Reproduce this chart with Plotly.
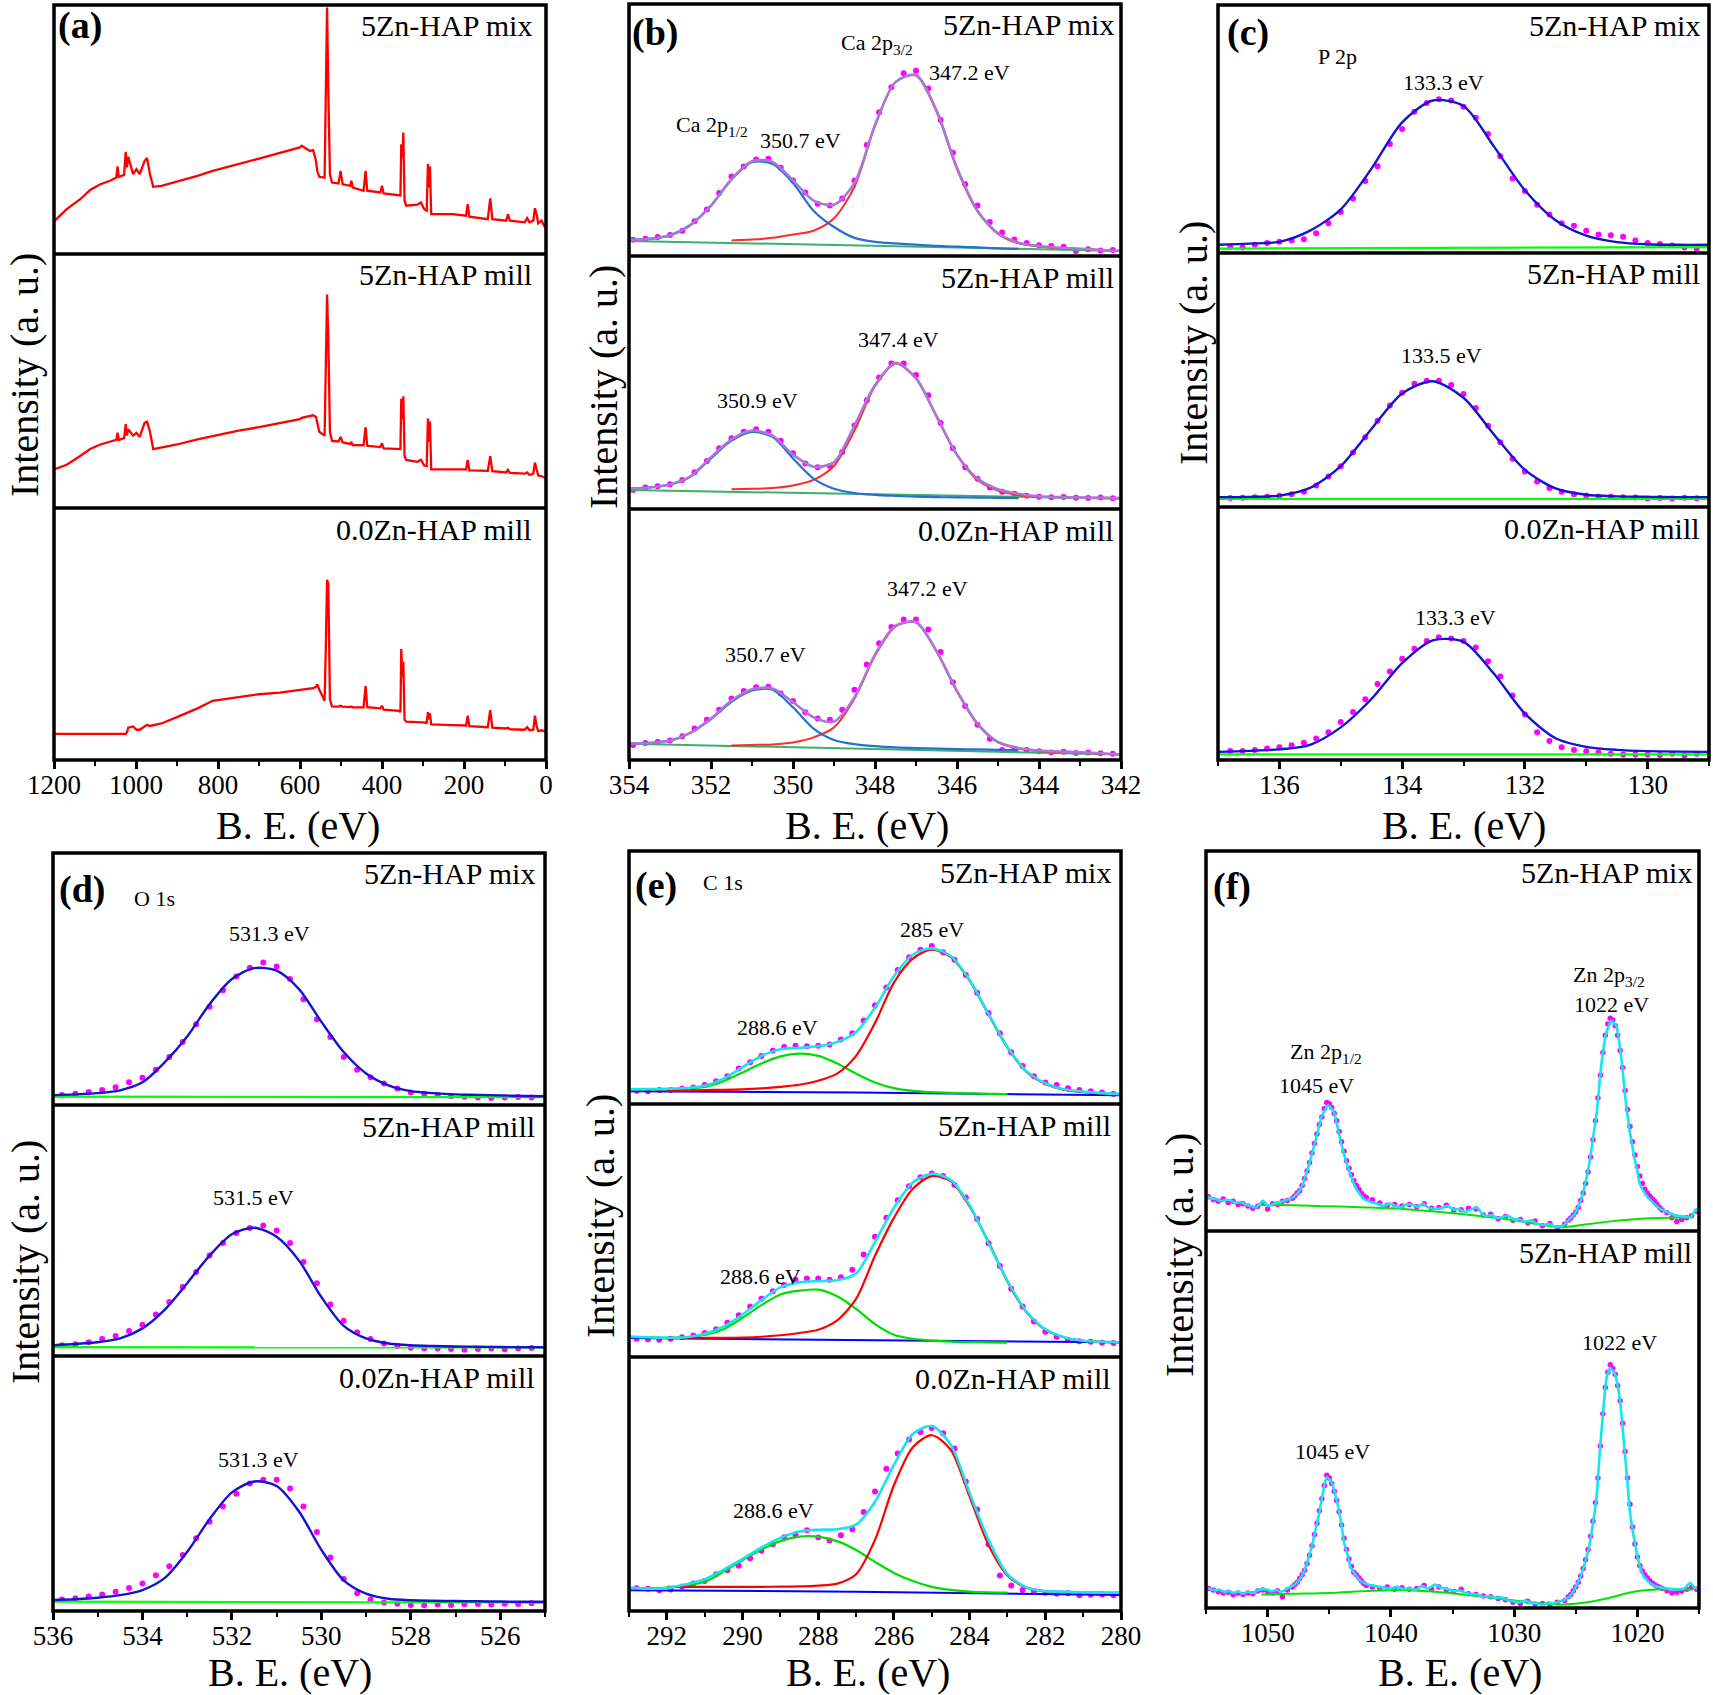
import plotly.graph_objects as go

# ======================= DATA (normalised intensity, 0 = bottom of sub-panel, 1 = top) =======================
# ---------- (a) survey ----------
SURVEY_BE = [1200, 1169, 1136, 1112, 1087, 1063, 1048, 1045, 1042, 1029,
             1025, 1022, 1019, 1007, 999, 991, 979, 973, 966, 958,
             938, 900, 850, 813, 750, 700, 649, 600, 596, 576,
             568, 561, 558, 553, 540, 537, 534, 531, 527, 522,
             506, 501, 496, 477, 475, 471, 445, 440, 436, 404,
             400, 396, 358, 355, 353, 350, 348, 345, 341, 314,
             305, 297, 291, 288, 285, 283, 280, 228, 195, 191,
             187, 142, 136, 131, 97, 93, 88, 52, 46, 40,
             31, 27, 23, 19, 11, 0]
SURVEY_MIX = [0.131, 0.18, 0.22, 0.257, 0.28, 0.294, 0.307, 0.352, 0.31, 0.318,
              0.41, 0.348, 0.39, 0.321, 0.341, 0.321, 0.374, 0.385, 0.321, 0.27,
              0.274, 0.291, 0.314, 0.334, 0.36, 0.383, 0.406, 0.428, 0.435, 0.414,
              0.417, 0.374, 0.334, 0.31, 0.307, 0.729, 0.99, 0.662, 0.32, 0.287,
              0.283, 0.334, 0.28, 0.274, 0.294, 0.267, 0.254, 0.334, 0.254, 0.247,
              0.274, 0.243, 0.238, 0.235, 0.441, 0.388, 0.488, 0.214, 0.194, 0.198,
              0.207, 0.18, 0.174, 0.361, 0.267, 0.351, 0.16, 0.16, 0.154, 0.2,
              0.15, 0.14, 0.223, 0.14, 0.134, 0.16, 0.134, 0.127, 0.144, 0.127,
              0.134, 0.184, 0.16, 0.123, 0.134, 0.1]
SURVEY_MILL = [0.152, 0.17, 0.205, 0.232, 0.25, 0.262, 0.268, 0.296, 0.268, 0.275,
               0.33, 0.285, 0.31, 0.285, 0.296, 0.28, 0.335, 0.34, 0.3, 0.232,
               0.238, 0.25, 0.27, 0.283, 0.305, 0.318, 0.335, 0.35, 0.355, 0.362,
               0.365, 0.358, 0.33, 0.3, 0.285, 0.6, 0.84, 0.67, 0.3, 0.264,
               0.262, 0.28, 0.258, 0.252, 0.26, 0.248, 0.247, 0.318, 0.245, 0.24,
               0.255, 0.235, 0.232, 0.232, 0.43, 0.35, 0.44, 0.205, 0.189, 0.182,
               0.19, 0.167, 0.165, 0.352, 0.26, 0.34, 0.152, 0.152, 0.152, 0.189,
               0.148, 0.146, 0.204, 0.145, 0.14, 0.15, 0.138, 0.135, 0.14, 0.13,
               0.135, 0.178, 0.15, 0.128, 0.125, 0.118]
SURVEY_00 = [0.104, 0.104, 0.104, 0.104, 0.104, 0.104, 0.104, 0.104, 0.104, 0.104,
             0.104, 0.11, 0.128, 0.133, 0.12, 0.12, 0.135, 0.14, 0.135, 0.138,
             0.145, 0.17, 0.205, 0.235, 0.25, 0.261, 0.267, 0.278, 0.278, 0.283,
             0.285, 0.29, 0.3, 0.28, 0.235, 0.45, 0.715, 0.7, 0.24, 0.213,
             0.212, 0.215, 0.212, 0.21, 0.212, 0.209, 0.209, 0.293, 0.21, 0.205,
             0.215, 0.2, 0.195, 0.19, 0.44, 0.33, 0.39, 0.16, 0.152, 0.15,
             0.15, 0.148, 0.148, 0.19, 0.16, 0.185, 0.141, 0.138, 0.137, 0.176,
             0.134, 0.13, 0.198, 0.128, 0.125, 0.128, 0.122, 0.12, 0.13, 0.118,
             0.12, 0.176, 0.135, 0.115, 0.118, 0.111]

# ---------- (b) Ca 2p ----------
CA_FIT_BE = [354, 353.5, 353, 352.5, 352, 351.5, 351, 350.5, 350, 349.5, 349, 348.5, 348,
             347.5, 347, 346.5, 346, 345.5, 345, 344.5, 344, 343.5, 343, 342.5, 342]
CA_P12_BE = [354, 353.5, 353, 352.5, 352, 351.5, 351, 350.5, 350, 349.5, 349, 348.5, 348,
             347.5, 347, 346.5, 346, 345.5, 345, 344.5]
CA_P32_BE = [351.5, 351, 350.5, 350, 349.5, 349, 348.5, 348, 347.5, 347, 346.5, 346,
             345.5, 345, 344.5, 344, 343.5, 343, 342.5, 342]
CA_BASE_BE = [354, 342]
CA_DOT_BE = [353.9, 353.6, 353.3, 353.0, 352.7, 352.4, 352.1, 351.8, 351.5, 351.2,
             350.9, 350.6, 350.3, 350.0, 349.7, 349.4, 349.1, 348.8, 348.5, 348.2,
             347.9, 347.6, 347.3, 347.0, 346.7, 346.4, 346.1, 345.8, 345.5, 345.2,
             344.9, 344.6, 344.3, 344.0, 343.7, 343.4, 343.1, 342.8, 342.5, 342.2]

CA_MIX_ENV = [0.064, 0.068, 0.082, 0.123, 0.2, 0.305, 0.376, 0.373, 0.30, 0.22, 0.203, 0.29, 0.52,
              0.69, 0.718, 0.578, 0.35, 0.18, 0.09, 0.053, 0.04, 0.033, 0.029, 0.024, 0.02]
CA_MIX_P12 = [0.064, 0.068, 0.082, 0.123, 0.2, 0.303, 0.372, 0.365, 0.29, 0.18, 0.115, 0.072, 0.056,
              0.05, 0.045, 0.04, 0.037, 0.034, 0.03, 0.028]
CA_MIX_P32 = [0.062, 0.065, 0.072, 0.085, 0.1, 0.15, 0.275, 0.516, 0.69, 0.716, 0.573, 0.345,
              0.177, 0.088, 0.05, 0.038, 0.031, 0.028, 0.024, 0.02]
CA_MIX_BASE = [0.06, 0.02]
CA_MIX_DOTS = [0.064, 0.068, 0.075, 0.083, 0.1, 0.138, 0.185, 0.25, 0.315, 0.355,
               0.383, 0.386, 0.35, 0.3, 0.252, 0.207, 0.2, 0.228, 0.3, 0.44,
               0.57, 0.67, 0.725, 0.735, 0.665, 0.54, 0.41, 0.285, 0.2, 0.135,
               0.093, 0.065, 0.052, 0.043, 0.04, 0.037, 0.02, 0.027, 0.022, 0.024]

CA_MILL_ENV = [0.08, 0.085, 0.097, 0.129, 0.205, 0.275, 0.31, 0.29, 0.215, 0.167, 0.185, 0.33, 0.49,
               0.578, 0.517, 0.368, 0.215, 0.12, 0.078, 0.06, 0.05, 0.047, 0.045, 0.044, 0.043]
CA_MILL_P12 = [0.08, 0.085, 0.097, 0.128, 0.2, 0.27, 0.305, 0.285, 0.2, 0.12, 0.08, 0.063, 0.056,
               0.052, 0.049, 0.047, 0.046, 0.045, 0.044, 0.043]
CA_MILL_P32 = [0.078, 0.08, 0.083, 0.093, 0.115, 0.17, 0.31, 0.485, 0.575, 0.515, 0.365, 0.213,
               0.115, 0.073, 0.055, 0.048, 0.046, 0.045, 0.044, 0.043]
CA_MILL_BASE = [0.075, 0.041]
CA_MILL_DOTS = [0.075, 0.085, 0.09, 0.098, 0.115, 0.145, 0.19, 0.24, 0.28, 0.305,
                0.315, 0.305, 0.27, 0.22, 0.18, 0.165, 0.17, 0.225, 0.33, 0.43,
                0.52, 0.575, 0.575, 0.53, 0.45, 0.34, 0.24, 0.165, 0.12, 0.085,
                0.068, 0.06, 0.052, 0.048, 0.046, 0.047, 0.044, 0.043, 0.045, 0.042]

CA_00_ENV = [0.065, 0.068, 0.077, 0.109, 0.165, 0.237, 0.282, 0.285, 0.23, 0.17, 0.153, 0.25, 0.42,
             0.535, 0.55, 0.435, 0.275, 0.145, 0.072, 0.048, 0.038, 0.034, 0.031, 0.027, 0.022]
CA_00_P12 = [0.065, 0.068, 0.077, 0.108, 0.163, 0.232, 0.277, 0.28, 0.21, 0.125, 0.08, 0.063, 0.055,
             0.05, 0.047, 0.045, 0.043, 0.042, 0.04, 0.038]
CA_00_P32 = [0.058, 0.06, 0.062, 0.07, 0.09, 0.13, 0.245, 0.415, 0.532, 0.548, 0.432, 0.272,
             0.142, 0.07, 0.046, 0.036, 0.032, 0.029, 0.025, 0.022]
CA_00_BASE = [0.065, 0.022]
CA_00_DOTS = [0.06, 0.068, 0.072, 0.078, 0.095, 0.125, 0.16, 0.2, 0.245, 0.275,
              0.29, 0.292, 0.265, 0.235, 0.19, 0.165, 0.16, 0.2, 0.28, 0.38,
              0.465, 0.53, 0.56, 0.56, 0.52, 0.43, 0.31, 0.215, 0.14, 0.085,
              0.04, 0.045, 0.04, 0.035, 0.03, 0.033, 0.028, 0.03, 0.027, 0.025]

# ---------- (c) P 2p ----------
P_FIT_BE = [137, 136.5, 136, 135.5, 135, 134.5, 134, 133.5, 133, 132.5, 132, 131.5, 131,
            130.5, 130, 129.5, 129]
P_BASE_BE = [137, 129]
P_DOT_BE = [136.8, 136.6, 136.4, 136.2, 136.0, 135.8, 135.6, 135.4, 135.2, 135.0,
            134.8, 134.6, 134.4, 134.2, 134.0, 133.8, 133.6, 133.4, 133.2, 133.0,
            132.8, 132.6, 132.4, 132.2, 132.0, 131.8, 131.6, 131.4, 131.2, 131.0,
            130.8, 130.6, 130.4, 130.2, 130.0, 129.8, 129.6, 129.4, 129.2]
P_MIX_ENV = [0.033, 0.038, 0.045, 0.09, 0.176, 0.34, 0.527, 0.615, 0.593, 0.428, 0.253, 0.132, 0.07,
             0.044, 0.035, 0.033, 0.033]
P_MIX_BASE = [0.018, 0.024]
P_MIX_DOTS = [0.025, 0.022, 0.033, 0.04, 0.045, 0.05, 0.055, 0.08, 0.12, 0.165,
              0.22, 0.29, 0.35, 0.44, 0.5, 0.57, 0.605, 0.62, 0.615, 0.59,
              0.545, 0.48, 0.39, 0.3, 0.25, 0.195, 0.155, 0.12, 0.11, 0.09,
              0.075, 0.072, 0.066, 0.05, 0.04, 0.036, 0.03, 0.022, 0.017]
P_MILL_ENV = [0.039, 0.04, 0.045, 0.075, 0.161, 0.307, 0.447, 0.495, 0.43, 0.284, 0.146, 0.073, 0.048,
              0.042, 0.04, 0.039, 0.039]
P_MILL_BASE = [0.032, 0.032]
P_MILL_DOTS = [0.035, 0.036, 0.038, 0.04, 0.044, 0.05, 0.06, 0.085, 0.12, 0.16,
               0.215, 0.275, 0.34, 0.4, 0.45, 0.485, 0.497, 0.497, 0.48, 0.445,
               0.39, 0.32, 0.255, 0.19, 0.14, 0.1, 0.075, 0.06, 0.05, 0.045,
               0.04, 0.04, 0.038, 0.037, 0.033, 0.035, 0.033, 0.036, 0.034]
P_00_ENV = [0.032, 0.036, 0.042, 0.06, 0.129, 0.241, 0.383, 0.473, 0.467, 0.34, 0.183, 0.086, 0.052,
            0.04, 0.035, 0.033, 0.032]
P_00_BASE = [0.022, 0.022]
P_00_DOTS = [0.036, 0.036, 0.04, 0.045, 0.05, 0.058, 0.068, 0.085, 0.11, 0.15,
             0.19, 0.24, 0.3, 0.35, 0.4, 0.44, 0.47, 0.485, 0.48, 0.47,
             0.445, 0.39, 0.33, 0.255, 0.18, 0.11, 0.075, 0.05, 0.04, 0.035,
             0.03, 0.025, 0.022, 0.022, 0.022, 0.02, 0.025, 0.018, 0.025]

# ---------- (d) O 1s ----------
O_FIT_BE = [536, 535.5, 535, 534.5, 534, 533.5, 533, 532.5, 532, 531.5, 531, 530.5, 530,
            529.5, 529, 528.5, 528, 527.5, 527, 526.5, 526, 525.5, 525]
O_BASE_BE = [536, 525]
O_DOT_BE = [535.8, 535.5, 535.2, 534.9, 534.6, 534.3, 534.0, 533.7, 533.4, 533.1,
            532.8, 532.5, 532.2, 531.9, 531.6, 531.3, 531.0, 530.7, 530.4, 530.1,
            529.8, 529.5, 529.2, 528.9, 528.6, 528.3, 528.0, 527.7, 527.4, 527.1,
            526.8, 526.5, 526.2, 525.9, 525.6, 525.3]
O_MIX_ENV = [0.039, 0.042, 0.047, 0.058, 0.09, 0.17, 0.272, 0.4, 0.5, 0.543, 0.533, 0.46, 0.33,
             0.21, 0.125, 0.078, 0.055, 0.047, 0.042, 0.04, 0.038, 0.036, 0.035]
O_MIX_BASE = [0.033, 0.031]
O_MIX_DOTS = [0.04, 0.045, 0.052, 0.06, 0.07, 0.09, 0.108, 0.14, 0.19, 0.25,
              0.32, 0.39, 0.455, 0.51, 0.545, 0.565, 0.55, 0.5, 0.42, 0.34,
              0.27, 0.19, 0.14, 0.11, 0.085, 0.065, 0.05, 0.045, 0.04, 0.035,
              0.033, 0.03, 0.028, 0.03, 0.032, 0.03]
O_MILL_ENV = [0.043, 0.048, 0.055, 0.07, 0.11, 0.185, 0.29, 0.4, 0.485, 0.511, 0.475, 0.38, 0.235,
              0.12, 0.07, 0.05, 0.043, 0.04, 0.038, 0.037, 0.036, 0.035, 0.035]
O_MILL_BASE = [0.035, 0.034]
O_MILL_DOTS = [0.043, 0.047, 0.055, 0.068, 0.08, 0.1, 0.125, 0.165, 0.215, 0.275,
               0.335, 0.4, 0.45, 0.49, 0.51, 0.52, 0.5, 0.45, 0.375, 0.29,
               0.205, 0.14, 0.095, 0.068, 0.05, 0.04, 0.033, 0.03, 0.03, 0.028,
               0.025, 0.028, 0.03, 0.027, 0.03, 0.032]
O_00_ENV = [0.043, 0.046, 0.052, 0.062, 0.082, 0.13, 0.232, 0.36, 0.465, 0.508, 0.49, 0.39, 0.24,
            0.12, 0.068, 0.048, 0.042, 0.04, 0.039, 0.038, 0.037, 0.036, 0.036]
O_00_BASE = [0.037, 0.033]
O_00_DOTS = [0.045, 0.05, 0.057, 0.065, 0.075, 0.09, 0.108, 0.14, 0.175, 0.22,
             0.285, 0.35, 0.41, 0.46, 0.5, 0.515, 0.515, 0.48, 0.41, 0.31,
             0.21, 0.125, 0.07, 0.045, 0.033, 0.028, 0.024, 0.023, 0.025, 0.024,
             0.026, 0.027, 0.025, 0.028, 0.027, 0.03]

# ---------- (e) C 1s ----------
C_FIT_BE = [293, 292.5, 292, 291.5, 291, 290.5, 290, 289.5, 289, 288.5, 288, 287.5, 287,
            286.5, 286, 285.5, 285, 284.5, 284, 283.5, 283, 282.5, 282, 281.5, 281, 280.5, 280]
C_GREEN_BE = [293, 292.5, 292, 291.5, 291, 290.5, 290, 289.5, 289, 288.5, 288, 287.5, 287,
              286.5, 286, 285.5, 285, 284.5, 284, 283.5, 283]
C_RED_BE = [292, 291.5, 291, 290.5, 290, 289.5, 289, 288.5, 288, 287.5, 287, 286.5, 286,
            285.5, 285, 284.5, 284, 283.5, 283, 282.5, 282, 281.5, 281, 280.5, 280]
C_BASE_BE = [293, 287, 280]
C_DOT_BE = [292.8, 292.5, 292.2, 291.9, 291.6, 291.3, 291.0, 290.7, 290.4, 290.1,
            289.8, 289.5, 289.2, 288.9, 288.6, 288.3, 288.0, 287.7, 287.4, 287.1,
            286.8, 286.5, 286.2, 285.9, 285.6, 285.3, 285.0, 284.7, 284.4, 284.1,
            283.8, 283.5, 283.2, 282.9, 282.6, 282.3, 282.0, 281.7, 281.4, 281.1,
            280.8, 280.5, 280.2]
C_MIX_ENV = [0.058, 0.059, 0.06, 0.063, 0.072, 0.1, 0.146, 0.19, 0.216, 0.222, 0.228, 0.245, 0.285,
             0.38, 0.505, 0.59, 0.615, 0.585, 0.49, 0.356, 0.225, 0.13, 0.082, 0.058, 0.049, 0.043, 0.039]
C_MIX_GREEN = [0.058, 0.058, 0.059, 0.062, 0.068, 0.09, 0.125, 0.16, 0.188, 0.199, 0.19, 0.16, 0.12,
               0.085, 0.063, 0.052, 0.047, 0.044, 0.042, 0.04, 0.039]
C_MIX_RED = [0.054, 0.054, 0.055, 0.056, 0.058, 0.062, 0.068, 0.076, 0.092, 0.12, 0.19, 0.32, 0.48,
             0.575, 0.61, 0.582, 0.488, 0.354, 0.223, 0.128, 0.08, 0.056, 0.047, 0.042, 0.039]
C_MIX_BASE = [0.05, 0.045, 0.035]
C_MIX_DOTS = [0.052, 0.05, 0.055, 0.055, 0.06, 0.065, 0.075, 0.09, 0.11, 0.14,
              0.165, 0.19, 0.21, 0.225, 0.23, 0.228, 0.23, 0.235, 0.255, 0.28,
              0.33, 0.39, 0.46, 0.53, 0.58, 0.61, 0.625, 0.6, 0.57, 0.51,
              0.44, 0.36, 0.28, 0.205, 0.15, 0.11, 0.085, 0.075, 0.062, 0.055,
              0.05, 0.045, 0.04]
C_MILL_ENV = [0.08, 0.078, 0.076, 0.078, 0.092, 0.12, 0.168, 0.225, 0.275, 0.295, 0.3, 0.303, 0.33,
              0.455, 0.59, 0.69, 0.724, 0.7, 0.6, 0.45, 0.301, 0.18, 0.11, 0.078, 0.064, 0.06, 0.058]
C_MILL_GREEN = [0.08, 0.078, 0.076, 0.078, 0.088, 0.11, 0.155, 0.205, 0.247, 0.262, 0.266, 0.24, 0.19,
                0.13, 0.088, 0.072, 0.065, 0.061, 0.059, 0.058, 0.057]
C_MILL_RED = [0.076, 0.076, 0.076, 0.076, 0.077, 0.08, 0.086, 0.095, 0.108, 0.145, 0.23, 0.4, 0.55,
              0.665, 0.715, 0.695, 0.595, 0.455, 0.298, 0.178, 0.108, 0.077, 0.064, 0.06, 0.058]
C_MILL_BASE = [0.075, 0.068, 0.058]
C_MILL_DOTS = [0.072, 0.07, 0.068, 0.072, 0.078, 0.085, 0.095, 0.11, 0.135, 0.165,
               0.2, 0.23, 0.26, 0.285, 0.305, 0.31, 0.31, 0.305, 0.315, 0.345,
               0.405, 0.475, 0.55, 0.62, 0.675, 0.71, 0.725, 0.715, 0.68, 0.63,
               0.545, 0.45, 0.36, 0.27, 0.2, 0.14, 0.1, 0.08, 0.068, 0.062,
               0.06, 0.056, 0.055]
C_00_ENV = [0.092, 0.088, 0.09, 0.105, 0.125, 0.163, 0.205, 0.25, 0.288, 0.313, 0.32, 0.322, 0.34,
            0.43, 0.575, 0.697, 0.728, 0.655, 0.465, 0.28, 0.145, 0.093, 0.078, 0.076, 0.074, 0.072, 0.072]
C_00_GREEN = [0.09, 0.09, 0.092, 0.1, 0.115, 0.155, 0.2, 0.242, 0.275, 0.293, 0.293, 0.275, 0.24,
              0.193, 0.15, 0.118, 0.095, 0.083, 0.076, 0.073, 0.072]
C_00_RED = [0.095, 0.095, 0.095, 0.095, 0.095, 0.095, 0.096, 0.097, 0.1, 0.108, 0.145, 0.28, 0.495,
            0.645, 0.692, 0.635, 0.45, 0.26, 0.14, 0.092, 0.078, 0.075, 0.074, 0.072, 0.072]
C_00_BASE = [0.082, 0.076, 0.063]
C_00_DOTS = [0.09, 0.088, 0.082, 0.085, 0.095, 0.108, 0.118, 0.145, 0.16, 0.178,
             0.208, 0.237, 0.263, 0.29, 0.298, 0.318, 0.289, 0.278, 0.298, 0.322,
             0.39, 0.47, 0.56, 0.62, 0.675, 0.705, 0.72, 0.7, 0.64, 0.51,
             0.4, 0.263, 0.14, 0.1, 0.083, 0.077, 0.072, 0.068, 0.07, 0.062,
             0.064, 0.065, 0.062]

# ---------- (f) Zn 2p ----------
F_MIX_FIT_BE = [1055.0, 1054.6, 1054.2, 1053.8, 1053.4, 1053.0, 1052.6, 1052.2, 1051.8, 1051.4,
                1051.0, 1050.6, 1050.4, 1050.1, 1049.8, 1049.4, 1049.0, 1048.6, 1048.2, 1047.8,
                1047.3, 1046.7, 1046.1, 1045.6, 1045.1, 1044.6, 1044.1, 1043.5, 1042.8, 1042.2,
                1041.6, 1041.1, 1040.6, 1040.1, 1039.7, 1039.2, 1038.8, 1038.3, 1037.8, 1037.4,
                1037.0, 1036.5, 1035.9, 1035.4, 1034.9, 1034.5, 1034.0, 1033.4, 1033.0, 1032.6,
                1032.3, 1031.8, 1031.4, 1031.0, 1030.5, 1030.0, 1029.6, 1029.1, 1028.6, 1028.2,
                1027.7, 1027.1, 1026.6, 1026.2, 1025.8, 1025.5, 1025.1, 1024.7, 1024.3, 1023.9,
                1023.6, 1023.3, 1022.9, 1022.5, 1022.1, 1021.7, 1021.3, 1020.9, 1020.6, 1020.3,
                1020.0, 1019.8, 1019.3, 1018.9, 1018.3, 1017.8, 1017.3, 1016.7, 1016.2, 1015.7,
                1015.4, 1015.2, 1015.0]
F_MIX_ENV = [0.093, 0.085, 0.084, 0.078, 0.082, 0.08, 0.074, 0.076, 0.07, 0.066,
             0.062, 0.072, 0.08, 0.07, 0.067, 0.074, 0.076, 0.08, 0.084, 0.092,
             0.111, 0.169, 0.24, 0.302, 0.331, 0.311, 0.24, 0.169, 0.111, 0.084,
             0.076, 0.071, 0.066, 0.072, 0.067, 0.062, 0.07, 0.069, 0.064, 0.072,
             0.062, 0.058, 0.06, 0.066, 0.056, 0.058, 0.05, 0.058, 0.062, 0.045,
             0.04, 0.042, 0.034, 0.036, 0.04, 0.03, 0.031, 0.024, 0.028, 0.02,
             0.016, 0.018, 0.01, 0.013, 0.02, 0.031, 0.045, 0.071, 0.115, 0.178,
             0.245, 0.311, 0.444, 0.524, 0.553, 0.538, 0.453, 0.329, 0.26, 0.204,
             0.158, 0.124, 0.095, 0.08, 0.062, 0.053, 0.046, 0.04, 0.038, 0.036,
             0.05, 0.058, 0.045]
F_MILL_FIT_BE = [1055.0, 1054.6, 1054.2, 1053.9, 1053.5, 1053.1, 1052.8, 1052.4, 1052.0, 1051.6,
                 1051.2, 1050.8, 1050.4, 1050.1, 1049.7, 1049.3, 1048.9, 1048.5, 1048.2, 1047.9,
                 1047.5, 1047.1, 1046.7, 1046.4, 1046.1, 1045.8, 1045.4, 1045.2, 1044.8, 1044.5,
                 1044.3, 1044.0, 1043.8, 1043.5, 1043.3, 1042.9, 1042.6, 1042.0, 1041.3, 1040.7,
                 1040.0, 1039.5, 1039.0, 1038.5, 1038.0, 1037.5, 1037.0, 1036.4, 1035.9, 1035.4,
                 1034.9, 1034.4, 1034.0, 1033.5, 1033.0, 1032.5, 1032.0, 1031.5, 1031.0, 1030.5,
                 1030.1, 1029.6, 1029.1, 1028.6, 1028.2, 1027.7, 1027.2, 1026.8, 1026.3, 1025.9,
                 1025.5, 1025.1, 1024.7, 1024.3, 1023.9, 1023.6, 1023.3, 1023.1, 1022.9, 1022.7,
                 1022.5, 1022.2, 1021.8, 1021.6, 1021.4, 1021.2, 1021.0, 1020.8, 1020.6, 1020.3,
                 1020.0, 1019.8, 1019.5, 1019.1, 1018.8, 1018.3, 1017.8, 1017.3, 1016.7, 1016.2,
                 1015.9, 1015.7, 1015.4, 1015.0]
F_MILL_ENV = [0.053, 0.05, 0.047, 0.049, 0.042, 0.045, 0.04, 0.044, 0.038, 0.043,
              0.04, 0.047, 0.05, 0.049, 0.044, 0.048, 0.043, 0.05, 0.055, 0.06,
              0.072, 0.093, 0.13, 0.165, 0.21, 0.254, 0.325, 0.347, 0.334, 0.3,
              0.272, 0.22, 0.174, 0.14, 0.111, 0.09, 0.076, 0.064, 0.058, 0.055,
              0.052, 0.056, 0.05, 0.053, 0.048, 0.058, 0.052, 0.062, 0.053, 0.05,
              0.045, 0.047, 0.04, 0.038, 0.035, 0.03, 0.031, 0.027, 0.028, 0.02,
              0.018, 0.015, 0.02, 0.012, 0.013, 0.008, 0.015, 0.012, 0.018, 0.022,
              0.031, 0.05, 0.076, 0.115, 0.165, 0.225, 0.298, 0.39, 0.476, 0.55,
              0.61, 0.637, 0.619, 0.59, 0.548, 0.48, 0.405, 0.33, 0.254, 0.19,
              0.138, 0.11, 0.085, 0.07, 0.062, 0.056, 0.053, 0.05, 0.049, 0.052,
              0.062, 0.067, 0.055, 0.049]
F_BASE_BE = [1050.5, 1048, 1045, 1042, 1039, 1036, 1033, 1030, 1027.5, 1026, 1024.5, 1022.5,
             1020.5, 1018.5, 1015.5]
F_MIX_BASE = [0.068, 0.068, 0.065, 0.062, 0.058, 0.05, 0.04, 0.028, 0.015, 0.01, 0.016, 0.024,
              0.03, 0.034, 0.036]
F_MILL_BASE = [0.036, 0.038, 0.04, 0.045, 0.048, 0.042, 0.032, 0.02, 0.011, 0.009, 0.013, 0.025,
               0.042, 0.049, 0.049]
F_DOT_BE = [1054.8, 1054.4, 1054.0, 1053.6, 1053.2, 1052.8, 1052.4, 1052.0, 1051.6, 1051.2,
            1050.8, 1050.4, 1050.0, 1049.6, 1049.2, 1048.8, 1048.4,
            1048.0, 1047.8, 1047.6, 1047.4, 1047.2, 1047.0, 1046.8, 1046.6, 1046.4, 1046.2,
            1046.0, 1045.8, 1045.6, 1045.4, 1045.2, 1045.0, 1044.8, 1044.6, 1044.4, 1044.2,
            1044.0, 1043.8, 1043.6, 1043.4, 1043.2, 1043.0, 1042.8, 1042.6, 1042.4, 1042.2,
            1042.0,
            1041.5, 1040.9, 1040.3, 1039.7, 1039.1, 1038.5, 1037.9, 1037.3, 1036.7, 1036.1,
            1035.5, 1034.9, 1034.3, 1033.7, 1033.1, 1032.5, 1031.9, 1031.3, 1030.7, 1030.1,
            1029.5, 1028.9, 1028.3, 1027.7, 1027.1, 1026.5, 1025.9,
            1025.6, 1025.4, 1025.2, 1025.0, 1024.8, 1024.6, 1024.4, 1024.2, 1024.0, 1023.8,
            1023.6, 1023.4, 1023.2, 1023.0, 1022.8, 1022.6, 1022.4, 1022.2, 1022.0, 1021.8,
            1021.6, 1021.4, 1021.2, 1021.0, 1020.8, 1020.6, 1020.4, 1020.2, 1020.0, 1019.8,
            1019.6, 1019.4, 1019.2, 1019.0, 1018.8, 1018.6, 1018.4, 1018.2, 1018.0,
            1017.6, 1017.2, 1016.8, 1016.4, 1016.0, 1015.6, 1015.2]
F_MIX_DOTS = [0.09, 0.082, 0.078, 0.084, 0.075, 0.078, 0.07, 0.072, 0.066, 0.06,
              0.065, 0.074, 0.058, 0.072, 0.07, 0.078, 0.08,
              0.086, 0.092, 0.1, 0.106, 0.12, 0.138, 0.158, 0.18, 0.205, 0.23,
              0.255, 0.28, 0.3, 0.322, 0.338, 0.335, 0.325, 0.31, 0.29, 0.262,
              0.235, 0.21, 0.185, 0.165, 0.148, 0.132, 0.12, 0.11, 0.1, 0.092,
              0.088,
              0.082, 0.074, 0.068, 0.07, 0.066, 0.07, 0.064, 0.072, 0.06, 0.062,
              0.068, 0.055, 0.056, 0.06, 0.058, 0.042, 0.044, 0.032, 0.038, 0.028,
              0.03, 0.022, 0.026, 0.014, 0.02, 0.008, 0.018,
              0.028, 0.034, 0.042, 0.05, 0.062, 0.08, 0.1, 0.125, 0.155, 0.195,
              0.24, 0.29, 0.35, 0.41, 0.47, 0.515, 0.545, 0.56, 0.555, 0.54,
              0.515, 0.475, 0.43, 0.37, 0.32, 0.275, 0.235, 0.2, 0.17, 0.145,
              0.125, 0.11, 0.1, 0.092, 0.085, 0.078, 0.07, 0.062, 0.055,
              0.048, 0.035, 0.025, 0.03, 0.035, 0.04, 0.052]
F_MILL_DOTS = [0.052, 0.048, 0.043, 0.04, 0.042, 0.035, 0.04, 0.036, 0.04, 0.038,
               0.045, 0.048, 0.044, 0.04, 0.046, 0.03, 0.048,
               0.056, 0.062, 0.068, 0.078, 0.088, 0.1, 0.118, 0.14, 0.165, 0.195,
               0.225, 0.258, 0.29, 0.325, 0.352, 0.345, 0.33, 0.31, 0.285, 0.255,
               0.22, 0.185, 0.155, 0.13, 0.11, 0.095, 0.088, 0.08, 0.072, 0.065,
               0.06,
               0.056, 0.052, 0.056, 0.05, 0.054, 0.05, 0.052, 0.06, 0.05, 0.056,
               0.048, 0.044, 0.05, 0.038, 0.036, 0.032, 0.03, 0.025, 0.022, 0.015,
               0.012, 0.018, 0.01, 0.012, 0.008, 0.015, 0.02,
               0.03, 0.036, 0.046, 0.056, 0.068, 0.085, 0.105, 0.128, 0.155, 0.19,
               0.23, 0.28, 0.345, 0.43, 0.515, 0.585, 0.625, 0.645, 0.635, 0.62,
               0.59, 0.55, 0.49, 0.415, 0.345, 0.275, 0.215, 0.17, 0.135, 0.112,
               0.098, 0.088, 0.08, 0.072, 0.066, 0.062, 0.058, 0.055, 0.052,
               0.046, 0.04, 0.042, 0.045, 0.05, 0.055, 0.05]

SAMPLES3 = ["5Zn-HAP mix", "5Zn-HAP mill", "0.0Zn-HAP mill"]
SAMPLES2 = ["5Zn-HAP mix", "5Zn-HAP mill"]

# ======================= LAYOUT / STYLE =======================
W, H = 1713, 1695
SERIF = "Liberation Serif, Times New Roman, Times, serif"
MAGENTA = "#ff00ff"


def fx(px):
    return px / W


def fy(py):
    return 1 - py / H


fig = go.Figure()
axes_layout = {}
shapes = []
annotations = []
_count = [0]


def make_panel(x0, x1, ys, xrange, dtick, minor):
    ids = []
    n = len(ys) - 1
    for i in range(n):
        _count[0] += 1
        k = _count[0]
        s = "" if k == 1 else str(k)
        last = i == n - 1
        xa = dict(domain=[fx(x0), fx(x1)], range=xrange, anchor="y" + s,
                  showgrid=False, zeroline=False, showline=False, fixedrange=True,
                  showticklabels=last, tick0=0, dtick=dtick, automargin=False,
                  ticks="outside" if last else "", ticklen=8, tickwidth=2.5, tickcolor="black",
                  ticklabelstandoff=-7,
                  tickfont=dict(family=SERIF, size=27, color="black"))
        if last:
            xa["minor"] = dict(tick0=0, dtick=minor, ticks="outside", ticklen=5,
                               tickwidth=2, tickcolor="black")
        axes_layout["xaxis" + s] = xa
        axes_layout["yaxis" + s] = dict(domain=[fy(ys[i + 1]), fy(ys[i])], range=[0, 1],
                                        anchor="x" + s, visible=False, fixedrange=True,
                                        automargin=False)
        ids.append(("x" + s, "y" + s))
    shapes.append(dict(type="rect", xref="paper", yref="paper", x0=fx(x0), x1=fx(x1),
                       y0=fy(ys[-1]), y1=fy(ys[0]), line=dict(color="black", width=3.5),
                       layer="above"))
    for yy in ys[1:-1]:
        shapes.append(dict(type="line", xref="paper", yref="paper", x0=fx(x0), x1=fx(x1),
                           y0=fy(yy), y1=fy(yy), line=dict(color="black", width=3.5),
                           layer="above"))
    return ids


def line(ax, x, y, color, width=2.2, smooth=True, smoothing=0.8):
    fig.add_trace(go.Scatter(x=x, y=y, mode="lines",
                             line=dict(color=color, width=width,
                                       shape="spline" if smooth else "linear",
                                       smoothing=smoothing if smooth else None),
                             xaxis=ax[0], yaxis=ax[1], hoverinfo="skip", showlegend=False))


def dots(ax, x, y, size=6):
    fig.add_trace(go.Scatter(x=x, y=y, mode="markers",
                             marker=dict(color=MAGENTA, size=size, line=dict(width=0)),
                             xaxis=ax[0], yaxis=ax[1], hoverinfo="skip", showlegend=False))


def text(s, cx, cy, size, anchor="center", angle=0):
    annotations.append(dict(text=s, x=fx(cx), y=fy(cy), xref="paper", yref="paper",
                            xanchor=anchor, yanchor="middle", showarrow=False,
                            textangle=angle, font=dict(family=SERIF, size=size, color="black")))


# panel geometry (pixels)
GEOM = {
    "a": (54, 546, [5, 254, 508, 760], [1200, 0], 200, 100),
    "b": (629, 1121, [4, 256, 509, 760], [354, 342], 2, 1),
    "c": (1218, 1709, [5, 253, 507, 760], [137, 129], 2, 1),
    "d": (53, 545, [853, 1105, 1356, 1611], [536, 525], 2, 1),
    "e": (629, 1121, [851, 1104, 1357, 1611], [293, 280], 2, 1),
    "f": (1206, 1699, [851, 1231, 1608], [1055, 1015], 10, 5),
}
AX = {k: make_panel(*v) for k, v in GEOM.items()}

# (a)
for ax, y in zip(AX["a"], [SURVEY_MIX, SURVEY_MILL, SURVEY_00]):
    line(ax, SURVEY_BE, y, "#ff0000", 2.3, smooth=False)

# (b)
for ax, env, p12, p32, base, dt in zip(
        AX["b"], [CA_MIX_ENV, CA_MILL_ENV, CA_00_ENV], [CA_MIX_P12, CA_MILL_P12, CA_00_P12],
        [CA_MIX_P32, CA_MILL_P32, CA_00_P32], [CA_MIX_BASE, CA_MILL_BASE, CA_00_BASE],
        [CA_MIX_DOTS, CA_MILL_DOTS, CA_00_DOTS]):
    dots(ax, CA_DOT_BE, dt)
    line(ax, CA_BASE_BE, base, "#3cb06a", 2.0, smooth=False)
    line(ax, CA_P32_BE, p32, "#ff2a2a", 2.0)
    line(ax, CA_P12_BE, p12, "#2470d0", 2.2)
    line(ax, CA_FIT_BE, env, "#a57ad8", 2.6)

# (c)
for ax, env, base, dt in zip(AX["c"], [P_MIX_ENV, P_MILL_ENV, P_00_ENV],
                             [P_MIX_BASE, P_MILL_BASE, P_00_BASE],
                             [P_MIX_DOTS, P_MILL_DOTS, P_00_DOTS]):
    dots(ax, P_DOT_BE, dt)
    line(ax, P_BASE_BE, base, "#00ff00", 2.2, smooth=False)
    line(ax, P_FIT_BE, env, "#1414d0", 2.4)

# (d)
for ax, env, base, dt in zip(AX["d"], [O_MIX_ENV, O_MILL_ENV, O_00_ENV],
                             [O_MIX_BASE, O_MILL_BASE, O_00_BASE],
                             [O_MIX_DOTS, O_MILL_DOTS, O_00_DOTS]):
    dots(ax, O_DOT_BE, dt)
    line(ax, O_BASE_BE, base, "#00ff00", 2.2, smooth=False)
    line(ax, O_FIT_BE, env, "#1414d0", 2.4)

# (e)
for ax, env, gr, rd, base, dt in zip(
        AX["e"], [C_MIX_ENV, C_MILL_ENV, C_00_ENV], [C_MIX_GREEN, C_MILL_GREEN, C_00_GREEN],
        [C_MIX_RED, C_MILL_RED, C_00_RED], [C_MIX_BASE, C_MILL_BASE, C_00_BASE],
        [C_MIX_DOTS, C_MILL_DOTS, C_00_DOTS]):
    dots(ax, C_DOT_BE, dt)
    line(ax, C_BASE_BE, base, "#0000ff", 2.0, smooth=False)
    line(ax, C_GREEN_BE, gr, "#00dd00", 2.2)
    line(ax, C_RED_BE, rd, "#ff0000", 2.2)
    line(ax, C_FIT_BE, env, "#16e4ee", 2.6)

# (f)
for ax, fbe, env, base, dt in zip(AX["f"], [F_MIX_FIT_BE, F_MILL_FIT_BE], [F_MIX_ENV, F_MILL_ENV],
                                  [F_MIX_BASE, F_MILL_BASE], [F_MIX_DOTS, F_MILL_DOTS]):
    dots(ax, F_DOT_BE, dt, 5.5)
    line(ax, F_BASE_BE, base, "#00e600", 2.0)
    line(ax, fbe, env, "#16e4ee", 2.6, smoothing=0.5)

# ---------- texts ----------
LETTERS = {"a": (56, 26), "b": (630, 32), "c": (1225, 33), "d": (57, 889), "e": (633, 885),
           "f": (1211, 886)}
for k, (lx, ly) in LETTERS.items():
    text("<b>(%s)</b>" % k, lx, ly, 38, anchor="left")

LABEL_INSET = {"a": 12, "b": 5, "c": 7, "d": 8, "e": 8, "f": 5}
XTITLE_X = {"a": 298, "b": 867, "c": 1464, "d": 290, "e": 868, "f": 1460}
for k, v in GEOM.items():
    x0, x1, ys = v[0], v[1], v[2]
    names = SAMPLES2 if k == "f" else SAMPLES3
    for i, nm in enumerate(names):
        text(nm, x1 - LABEL_INSET[k], ys[i] + 21, 30, anchor="right")
    top_row = ys[0] < 100
    text("B. E. (eV)", XTITLE_X[k], 825 if top_row else 1672, 40)

YTITLE = {"a": (24, 375), "b": (604, 387), "c": (1193, 343), "d": (25, 1262), "e": (600, 1216),
          "f": (1179, 1255)}
for k, (cx, cy) in YTITLE.items():
    text("Intensity (a. u.)", cx, cy, 40, angle=-90)

PEAK_LABELS = [
    ("Ca 2p<sub>3/2</sub>", 877, 44), ("347.2 eV", 969, 72), ("Ca 2p<sub>1/2</sub>", 712, 126),
    ("350.7 eV", 800, 140), ("347.4 eV", 898, 340), ("350.9 eV", 757, 401),
    ("347.2 eV", 927, 588), ("350.7 eV", 765, 654),
    ("P 2p", 1337, 57), ("133.3 eV", 1443, 83), ("133.5 eV", 1441, 356), ("133.3 eV", 1455, 617),
    ("O 1s", 154, 899), ("531.3 eV", 269, 933), ("531.5 eV", 254, 1197), ("531.3 eV", 258, 1459),
    ("C 1s", 723, 883), ("285 eV", 932, 930), ("288.6 eV", 777, 1027), ("288.6 eV", 760, 1276),
    ("288.6 eV", 773, 1510),
    ("Zn 2p<sub>3/2</sub>", 1609, 976), ("1022 eV", 1611, 1004), ("Zn 2p<sub>1/2</sub>", 1326, 1053),
    ("1045 eV", 1316, 1085), ("1022 eV", 1619, 1342), ("1045 eV", 1332, 1451),
]
for s, cx, cy in PEAK_LABELS:
    text(s, cx, cy, 22)

fig.update_layout(
    width=W, height=H, margin=dict(l=0, r=0, t=0, b=0, pad=0, autoexpand=False),
    paper_bgcolor="white", plot_bgcolor="white",
    showlegend=False, shapes=shapes, annotations=annotations,
    font=dict(family=SERIF, color="black"),
    **axes_layout,
)

fig.write_html("out.html", config={"displayModeBar": False},
               post_script="document.body.style.margin='0';document.body.style.overflow='hidden';")
